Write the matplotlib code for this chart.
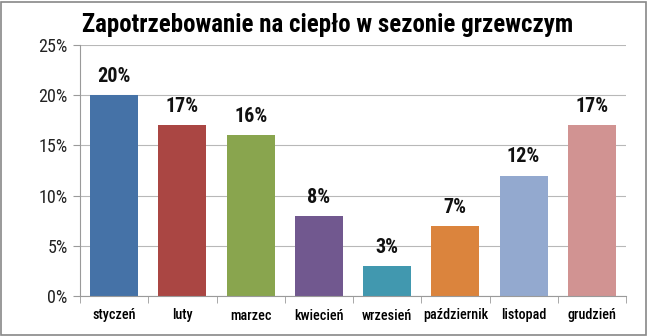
import matplotlib.pyplot as plt
from matplotlib import font_manager
from matplotlib.ticker import FuncFormatter, FixedLocator
import numpy as np

months = ["styczeń", "luty", "marzec", "kwiecień", "wrzesień",
          "październik", "listopad", "grudzień"]
shares = [20, 17, 16, 8, 3, 7, 12, 17]
colors = ["#4572A7", "#AA4643", "#89A54E", "#71588F",
          "#4198AF", "#DB843D", "#93A9CF", "#D19392"]

# prefer a narrow face, fall back to whatever is there
names = {f.name for f in font_manager.fontManager.ttflist}
face = next((n for n in ["Liberation Sans Narrow", "Roboto Condensed",
                         "DejaVu Sans Condensed", "Roboto"] if n in names), "DejaVu Sans")
plt.rcParams['font.family'] = [face, 'DejaVu Sans']

fig = plt.figure(figsize=(6.49, 3.36), dpi=100)
ax = fig.add_axes([80 / 649, 40 / 336, 546 / 649, 251 / 336])

x = np.arange(len(months))
ax.bar(x, shares, width=0.7, color=colors, zorder=2)
for xi, v in zip(x, shares):
    ax.text(xi, v + 0.9, f"{v}%", ha='center', va='bottom',
            fontsize=14.5, fontweight='bold', color='#111111')

ax.set_xlim(-0.5, len(months) - 0.5)
ax.set_ylim(0, 25)
ax.set_yticks(np.arange(0, 26, 5))
ax.yaxis.set_major_formatter(FuncFormatter(lambda v, p: f"{int(v)}%"))
ax.tick_params(axis='y', labelsize=13, length=5, color='#9a9a9a', pad=4,
               labelcolor='#222222')
ax.grid(axis='y', color='#b8b8b8', linewidth=0.8, zorder=0)

ax.set_xticks(x)
ax.set_xticklabels(months, fontsize=10.2, fontweight='medium')
ax.tick_params(axis='x', length=0, pad=9)
ax.xaxis.set_minor_locator(FixedLocator(np.arange(-0.5, len(months), 1)))
ax.tick_params(axis='x', which='minor', length=5, color='#9a9a9a')

for s in ['top', 'right']:
    ax.spines[s].set_visible(False)
for s in ['left', 'bottom']:
    ax.spines[s].set_color('#9a9a9a')

title = fig.text(82 / 649, 1 - 25 / 336, "Zapotrzebowanie na ciepło w sezonie grzewczym",
                 fontsize=18, fontweight='bold', va='center', ha='left')
# squeeze the title into the width it should span
fig.canvas.draw()
w = title.get_window_extent(fig.canvas.get_renderer()).width
title.set_fontsize(18 * 490 / w)

# outer border
fig.patches.append(plt.Rectangle((0.002, 0.003), 0.994, 0.992, transform=fig.transFigure,
                                 fill=False, edgecolor='#888888', linewidth=1.2))

fig.savefig("out.png", dpi=100)
